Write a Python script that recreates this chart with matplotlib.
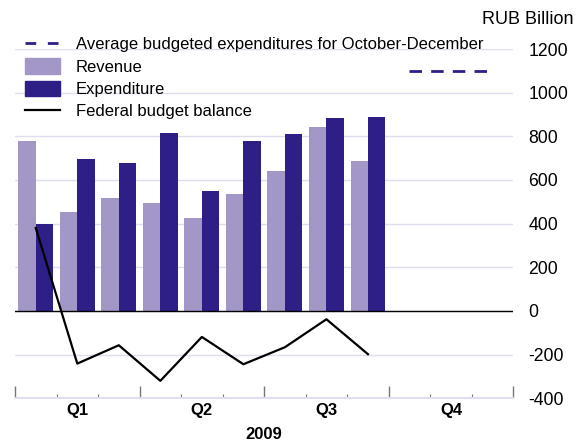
import numpy as np
import matplotlib.pyplot as plt
from matplotlib.patches import Patch
from matplotlib.lines import Line2D

plt.rcParams['font.family'] = ['Liberation Sans', 'DejaVu Sans']
plt.rcParams['axes.unicode_minus'] = False

months = ["Jan", "Feb", "Mar", "Apr", "May", "Jun", "Jul", "Aug", "Sep"]
revenue = [777, 452, 516, 493, 424, 534, 639, 844, 688]
expenditure = [400, 697, 680, 815, 549, 780, 809, 885, 890]
balance = [380, -241, -157, -320, -119, -244, -166, -38, -198]
budget_q4 = [1100, 1100]
quarters = ["Q1", "Q2", "Q3", "Q4"]
year = "2009"

c_rev = "#a397c8"
c_exp = "#2e1f87"
c_grid = "#dfddef"

fig = plt.figure(figsize=(5.88, 4.41), dpi=100)
ax = fig.add_axes([15 / 588, 1 - 398.3 / 441, 498.3 / 588, 349.3 / 441])

x = np.arange(len(months))
w = 0.42
ax.bar(x + 0.5 - w / 2, revenue, width=w, color=c_rev, zorder=2)
ax.bar(x + 0.5 + w / 2, expenditure, width=w, color=c_exp, zorder=2)
ax.plot(x + 0.5, balance, color="black", lw=1.6, zorder=3)
ax.plot([9.5, 11.5], budget_q4, color=c_exp, lw=2, dashes=(4.5, 3.3), zorder=3)

ax.set_xlim(0, 12)
ax.set_ylim(-400, 1200)
ax.set_yticks(range(-400, 1201, 200))
ax.yaxis.tick_right()
ax.tick_params(axis="y", length=0, pad=11, labelsize=12.7)
ax.grid(axis="y", color=c_grid, lw=1, zorder=0)
ax.axhline(0, color="black", lw=1, zorder=2)

ax.set_xticks([0, 3, 6, 9, 12])
ax.set_xticks(range(13), minor=True)
ax.set_xticklabels([])
ax.tick_params(axis="x", which="major", direction="in", length=9, width=1, color="#777777")
ax.tick_params(axis="x", which="minor", direction="in", length=3, width=0.8, color="#777777")
for i, q in enumerate(quarters):
    ax.text(i * 3 + 1.5, -455, q, ha="center", va="center", fontsize=12,
            fontweight="bold")
ax.text(6, -565, year, ha="center", va="center", fontsize=12, fontweight="bold")

for s in ["left", "right", "top"]:
    ax.spines[s].set_visible(False)
ax.spines["bottom"].set_color(c_grid)
ax.spines["bottom"].set_linewidth(1.5)

fig.text(573 / 588, 1 - 19 / 441, "RUB Billion", ha="right", va="center", fontsize=13)

handles = [
    Line2D([], [], color=c_exp, lw=2, dashes=(3.85, 4.2)),
    Patch(color=c_rev),
    Patch(color=c_exp),
    Line2D([], [], color="black", lw=1.6),
]
labels = ["Average budgeted expenditures for October-December", "Revenue",
          "Expenditure", "Federal budget balance"]
fig.legend(handles, labels, loc="upper left", bbox_to_anchor=(25 / 588, 1 - 36 / 441),
           frameon=False, fontsize=12, handlelength=2.1, handleheight=1.06,
           handletextpad=0.94, labelspacing=0.35, borderaxespad=0, borderpad=0)

fig.savefig("out.png", dpi=100)
